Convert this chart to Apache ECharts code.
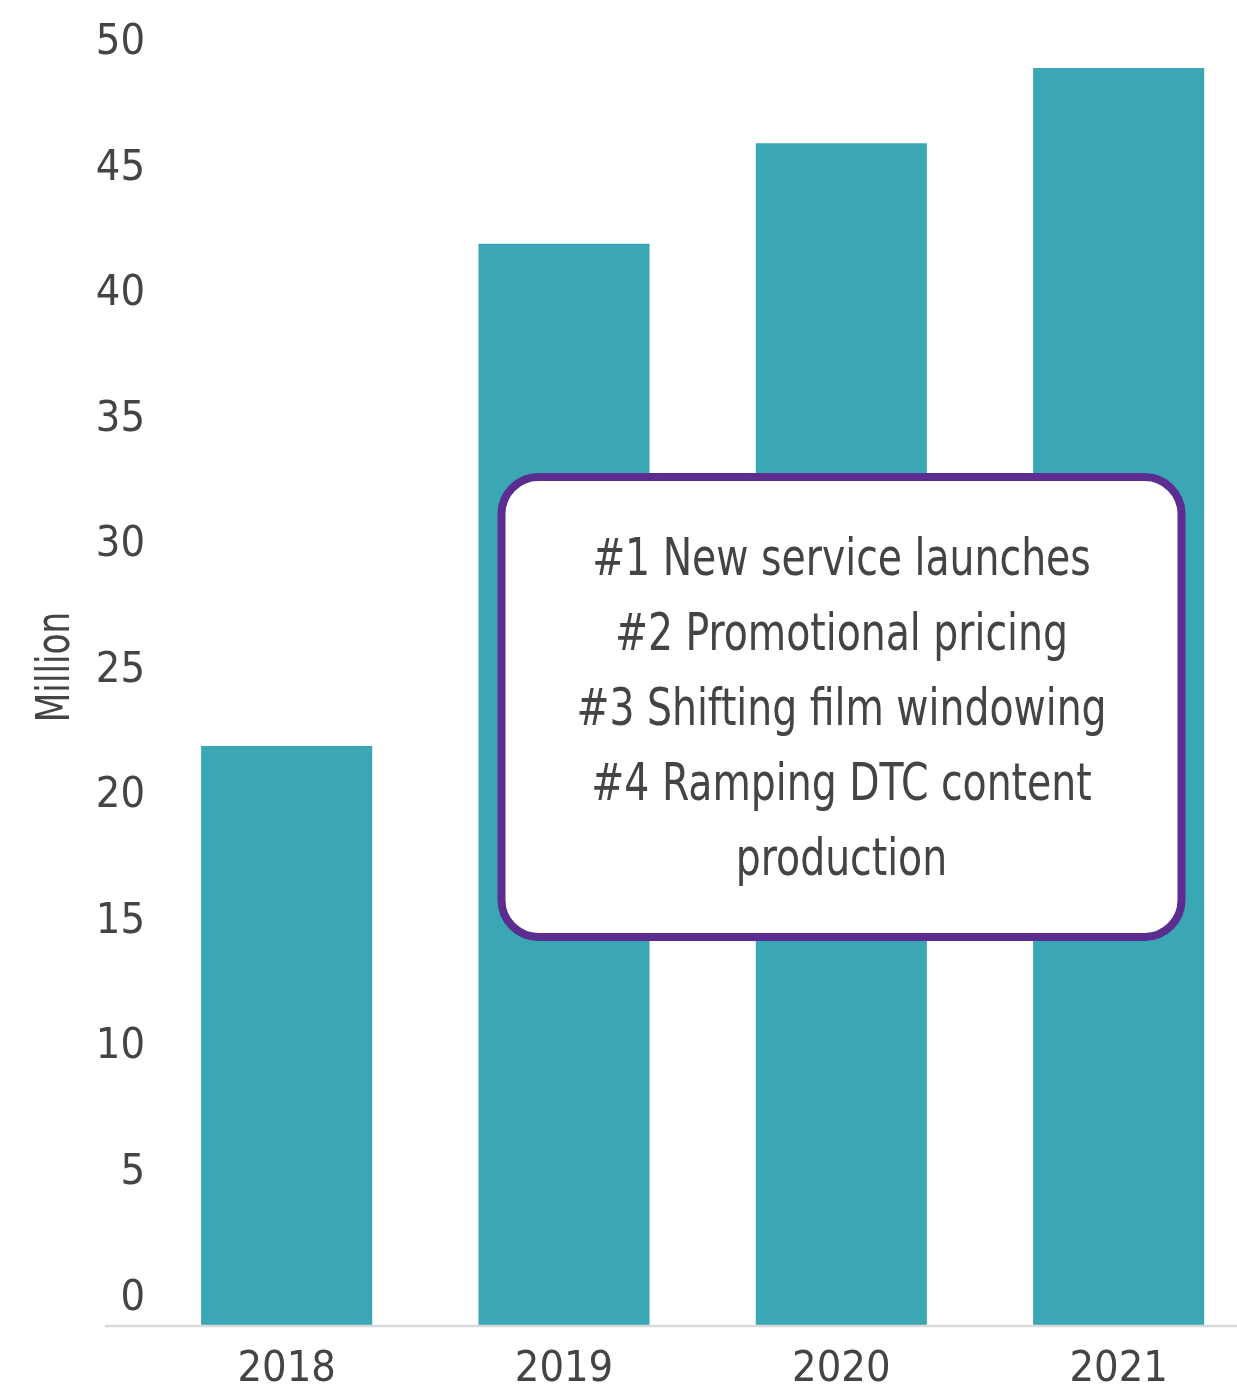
<!DOCTYPE html>
<html>
<head>
<meta charset="utf-8">
<script src="https://cdn.jsdelivr.net/npm/echarts@6/dist/echarts.min.js"></script>
<style>
  html, body { margin: 0; padding: 0; background: #ffffff; }
  #chart { width: 1237px; height: 1388px; }
</style>
</head>
<body>
<div id="chart"></div>
<script>
// Subscribers by year (millions)
const years = ['2018', '2019', '2020', '2021'];
const subscribers = [22, 42, 46, 49];
const yTicks = [0, 5, 10, 15, 20, 25, 30, 35, 40, 45, 50];
const axisTitle = 'Million';
const driverLines = [
  '#1 New service launches',
  '#2 Promotional pricing',
  '#3 Shifting film windowing',
  '#4 Ramping DTC content',
  'production'
];

const FONT = '"Liberation Sans Narrow", "DejaVu Sans Condensed", "Roboto", sans-serif';
const INK = '#444444';
const TEAL = '#3ba7b4';
const PURPLE = '#5c2d91';
const Y_FLOOR = -1.1;   // bars and baseline sit a little below the zero tick
const Y_TOP = 50;

const chart = echarts.init(document.getElementById('chart'), null, { renderer: 'canvas' });

chart.setOption({
  animation: false,
  backgroundColor: '#ffffff',
  grid: {
    left: 148,
    top: 42.9,
    width: 1109.3,
    height: 1283.1,
    containLabel: false,
    outerBoundsMode: 'none'
  },
  xAxis: {
    type: 'category',
    data: years,
    axisLine: { show: false },
    axisTick: { show: false },
    splitLine: { show: false },
    axisLabel: {
      margin: 22,
      fontSize: 43,
      fontFamily: FONT,
      color: INK
    }
  },
  yAxis: {
    type: 'value',
    min: Y_FLOOR,
    max: Y_TOP,
    splitLine: { show: false },
    axisLine: { show: false },
    axisTick: { show: false },
    axisLabel: {
      customValues: yTicks,
      margin: 3,
      fontSize: 43,
      fontFamily: FONT,
      color: INK,
      padding: [0, 0, 9, 0]
    }
  },
  series: [{
    type: 'custom',
    data: subscribers.map((v, i) => [i, v]),
    encode: { x: 0, y: 1 },
    renderItem(params, api) {
      const i = api.value(0);
      const v = api.value(1);
      const top = api.coord([i, v]);
      const base = api.coord([i, Y_FLOOR]);
      const band = api.size([1, 0])[0];
      const w = band * 0.617;
      return {
        type: 'rect',
        shape: { x: top[0] - w / 2, y: top[1], width: w, height: base[1] - top[1] },
        style: { fill: TEAL }
      };
    }
  }]
});

// Baseline, axis title and the callout box of growth drivers
const baseY = chart.convertToPixel({ yAxisIndex: 0 }, Y_FLOOR);
chart.setOption({
  graphic: [
    {
      type: 'line',
      z: 10,
      shape: { x1: 105, y1: baseY, x2: 1237, y2: baseY },
      style: { stroke: '#d9d9d9', lineWidth: 2.5 }
    },
    {
      type: 'text',
      z: 10,
      x: 57,
      y: 667,
      rotation: Math.PI / 2,
      scaleX: 0.83,
      style: {
        text: axisTitle,
        font: '46px ' + FONT,
        fill: INK,
        align: 'center',
        verticalAlign: 'middle'
      }
    },
    {
      type: 'rect',
      z: 20,
      shape: { x: 501.5, y: 477, width: 680, height: 460, r: 37 },
      style: { fill: '#ffffff', stroke: PURPLE, lineWidth: 8 }
    },
    {
      type: 'text',
      z: 21,
      x: 841.5,
      y: 712,
      scaleX: 0.858,
      style: {
        text: driverLines.join('\n'),
        font: '51px ' + FONT,
        lineHeight: 75,
        fill: INK,
        align: 'center',
        verticalAlign: 'middle'
      }
    }
  ]
});
</script>
</body>
</html>
